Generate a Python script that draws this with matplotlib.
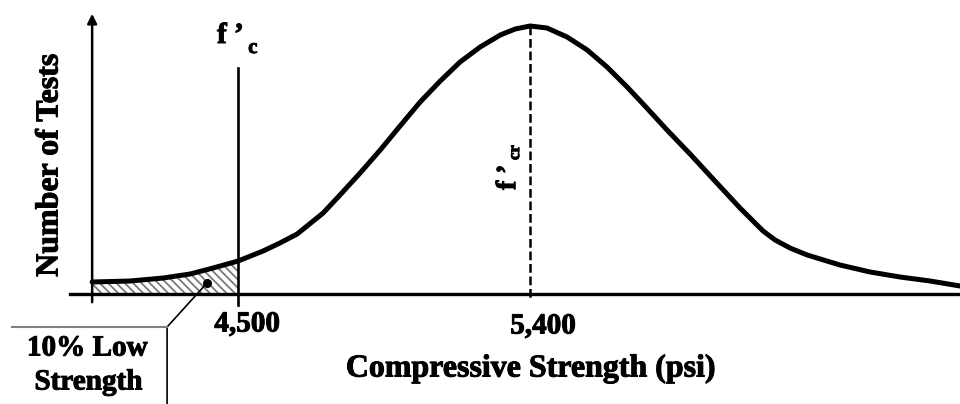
import numpy as np
import matplotlib
matplotlib.use("Agg")
import matplotlib.pyplot as plt
import matplotlib.patheffects as pe

# strength (psi) and relative number of tests
strength = [4050, 4167, 4269, 4352, 4423, 4500, 4577, 4629, 4682, 4762,
            4814, 4876, 4938, 4999, 5061, 5123, 5184, 5246, 5308, 5354,
            5400, 5452, 5514, 5576, 5637, 5699, 5754, 5822, 5893, 5964,
            6047, 6084, 6118, 6155, 6201, 6254, 6355, 6448, 6540, 6633,
            6725]
tests = [12, 13, 16, 20, 26, 33, 43, 51, 60, 81,
         99, 121, 144, 168, 192, 213, 232, 247, 259, 265,
         268, 266, 257, 244, 227, 207, 188, 164, 140, 115,
         86, 74, 63, 54, 46, 39, 29, 22, 17, 13,
         8]

fc = 4500
fcr = 5400
tick_labels = ["4,500", "5,400"]

plt.rcParams['font.family'] = ['Liberation Serif', 'DejaVu Serif']
plt.rcParams['font.weight'] = 'bold'
plt.rcParams['hatch.color'] = '#7a7a7a'
plt.rcParams['hatch.linewidth'] = 1.3

heavy = [pe.withStroke(linewidth=0.7, foreground='black')]

fig = plt.figure(figsize=(9.6, 4.04), dpi=100)
ax = fig.add_axes([0, 0, 1, 1])
ax.set_xlim(3766, 6725)
ax.set_ylim(-110, 294)
ax.axis('off')

x = np.array(strength)
y = np.array(tests)

# shaded low strength region
m = x <= fc
ax.fill_between(x[m], 0, y[m], facecolor='white', edgecolor='#7a7a7a',
                hatch='\\\\\\\\', linewidth=0)

ax.plot(x, y, color='black', lw=3.6, solid_capstyle='round',
        solid_joinstyle='round', zorder=5)

# axes
x0 = 4050
ax.plot([3982, 6725], [0, 0], color='black', lw=2.4, zorder=4)
ax.annotate('', xy=(x0, 283), xytext=(x0, -11),
            arrowprops=dict(arrowstyle='-|>', color='black', lw=1.8, mutation_scale=14))

# f'c line and f'cr dashed line
ax.plot([fc, fc], [226, -11], color='black', lw=1.9, zorder=4)
ax.plot([fcr, fcr], [268, -6], color='black', lw=1.8, ls=(0, (3.5, 1.5)), zorder=4)

ax.text(fc + 28, -30, tick_labels[0], ha='center', va='center', fontsize=21, path_effects=heavy)
ax.text(fcr + 40, -32, tick_labels[1], ha='center', va='center', fontsize=21, path_effects=heavy)

ax.text(5403, -75, 'Compressive Strength (psi)', ha='center', va='center',
        fontsize=23, path_effects=heavy)
ax.text(3920, 129, 'Number of Tests', ha='center', va='center', rotation=90,
        fontsize=23, path_effects=heavy)

# labels for f'c and f'cr
ax.text(4435, 251, "f \u2019", ha='left', va='baseline', fontsize=21, path_effects=heavy)
ax.text(4531, 241, "c", ha='left', va='baseline', fontsize=15, path_effects=heavy)
ax.text(5354, 104, "f \u2019", ha='left', va='baseline', rotation=90,
        rotation_mode='anchor', fontsize=20, path_effects=heavy)
ax.text(5366, 134, "cr", ha='left', va='baseline', rotation=90,
        rotation_mode='anchor', fontsize=12, path_effects=heavy)

# callout for low strength
ax.plot([4404], [11], 'o', color='black', ms=5.5, zorder=6)
ax.plot([4404, 4281, 4281], [11, -33, -115], color='black', lw=1.2)
ax.plot([3803, 4281], [-33, -33], color='#808080', lw=1.5)
ax.text(4035, -54, '10% Low', ha='center', va='center', fontsize=21, path_effects=heavy)
ax.text(4038, -88, 'Strength', ha='center', va='center', fontsize=21, path_effects=heavy)

fig.savefig('out.png', dpi=100)
